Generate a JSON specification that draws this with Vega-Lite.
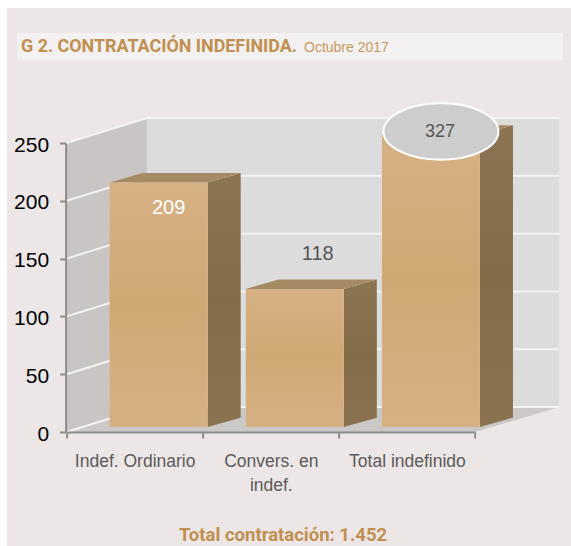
{
"$schema":"https://vega.github.io/schema/vega-lite/v6.json",
"width":408.4,"height":289,
"autosize":{"type":"none"},
"padding":{"left":66.6,"top":143,"right":96,"bottom":114},
"background":"#ffffff",
"config":{"view":{"stroke":null},"font":"Liberation Sans"},
"title":{"text":"G 2. CONTRATACIÓN INDEFINIDA.","anchor":"start","frame":"group","align":"left","baseline":"alphabetic","offset":-62,"dx":-45.6,"font":"Roboto","fontSize":17.9,"fontWeight":"bold","color":"#C18F50"},
"datasets":{
"contratacion":[{"categoria":"Indef. Ordinario","valor":209},{"categoria":"Convers. en indef.","valor":118},{"categoria":"Total indefinido","valor":327}],
"marcas":[{"t":0},{"t":50},{"t":100},{"t":150},{"t":200},{"t":250}]
},
"resolve":{"scale":{"x":"independent","y":"independent"},"axis":{"x":"independent","y":"independent"}},
"layer":[
{"data":{"values":[{"capa":"panel"}]},"mark":{"type":"rect","fill":"#ECE6E6"},
"encoding":{"x":{"datum":-0.438,"type":"quantitative","scale":{"domain":[0,3],"nice":false,"zero":false},"axis":null},"x2":{"datum":3.71},"y":{"datum":-99,"type":"quantitative","scale":{"domain":[0,250],"nice":false,"zero":false},"axis":null},"y2":{"datum":366.8}}},
{"data":{"values":[{"capa":"banda"}]},"mark":{"type":"rect","fill":"#F3F1F1"},
"encoding":{"x":{"datum":-0.364,"type":"quantitative","scale":{"domain":[0,3],"nice":false,"zero":false},"axis":null},"x2":{"datum":3.647},"y":{"datum":322,"type":"quantitative","scale":{"domain":[0,250],"nice":false,"zero":false},"axis":null},"y2":{"datum":345.2}}},
{"data":{"values":[{"capa":"subtitulo"}]},"mark":{"type":"text","font":"Liberation Sans","fontSize":14,"color":"#C6995F","align":"left","baseline":"alphabetic","text":"Octubre  2017"},
"encoding":{"x":{"datum":1.744,"type":"quantitative","scale":{"domain":[0,3],"nice":false,"zero":false},"axis":null},"y":{"datum":328.7,"type":"quantitative","scale":{"domain":[0,250],"nice":false,"zero":false},"axis":null}}},
{"data":{"values":[{"k":0},{"k":1}]},
"transform":[{"calculate":"0.59*datum.k","as":"px"},{"calculate":"250+21.6*datum.k","as":"arriba"},{"calculate":"21.6*datum.k","as":"abajo"}],
"mark":{"type":"area","fill":"#C8C5C4","line":false},
"encoding":{"x":{"field":"px","type":"quantitative","scale":{"domain":[0,3],"nice":false,"zero":false},"axis":null},"y":{"field":"arriba","type":"quantitative","scale":{"domain":[0,250],"nice":false,"zero":false},"axis":null},"y2":{"field":"abajo"}}},
{"data":{"values":[{"k":0},{"k":1},{"k":2},{"k":3}]},
"transform":[{"calculate":"[0,0.59,3,3.618][datum.k]","as":"px"},{"calculate":"[0,21.6,21.6,21.6][datum.k]","as":"arriba"},{"calculate":"[0,0,0,21.6][datum.k]","as":"abajo"}],
"mark":{"type":"area","fill":"#CAC9C8"},
"encoding":{"x":{"field":"px","type":"quantitative","scale":{"domain":[0,3],"nice":false,"zero":false},"axis":null},"y":{"field":"arriba","type":"quantitative","scale":{"domain":[0,250],"nice":false,"zero":false},"axis":null},"y2":{"field":"abajo"}}},
{"data":{"values":[{"capa":"pared"}]},"mark":{"type":"rect","fill":"#DCDCDC"},
"encoding":{"x":{"datum":0.59,"type":"quantitative","scale":{"domain":[0,3],"nice":false,"zero":false},"axis":null},"x2":{"datum":3.618},"y":{"datum":21.6,"type":"quantitative","scale":{"domain":[0,250],"nice":false,"zero":false},"axis":null},"y2":{"datum":271.6}}},
{"data":{"name":"marcas"},"transform":[{"calculate":"datum.t+21.6","as":"t2"}],
"mark":{"type":"rule","stroke":"#F3F3F3","strokeWidth":2},
"encoding":{"x":{"datum":0,"type":"quantitative","scale":{"domain":[0,3],"nice":false,"zero":false},"axis":null},"x2":{"datum":0.59},"y":{"field":"t","type":"quantitative","scale":{"domain":[0,250],"nice":false,"zero":false},"axis":{"orient":"left","values":[0,50,100,150,200,250],"title":null,"grid":false,"zindex":1,"offset":1,"domainColor":"#8C8C8C","domainWidth":2,"tickColor":"#8C8C8C","tickWidth":2,"tickSize":6,"labelColor":"#000000","labelFont":"Liberation Sans","labelFontSize":21,"labelPadding":11,"labelOffset":2}},"y2":{"field":"t2"}}},
{"data":{"name":"marcas"},"transform":[{"calculate":"datum.t+21.6","as":"t2"}],
"mark":{"type":"rule","stroke":"#F3F3F3","strokeWidth":2},
"encoding":{"x":{"datum":0.59,"type":"quantitative","scale":{"domain":[0,3],"nice":false,"zero":false},"axis":null},"x2":{"datum":3.618},"y":{"field":"t2","type":"quantitative","scale":{"domain":[0,250],"nice":false,"zero":false},"axis":null}}},
{"data":{"name":"contratacion"},
"transform":[{"calculate":"indexof(['Indef. Ordinario','Convers. en indef.','Total indefinido'],datum.categoria)","as":"i"},{"calculate":"min(datum.valor,250)","as":"h"},{"calculate":"[0,1]","as":"k"},{"flatten":["k"]},{"calculate":"datum.i+1.0364+0.2425*datum.k","as":"px"},{"calculate":"datum.h+8*datum.k","as":"arriba"},{"calculate":"8*datum.k","as":"abajo"}],
"mark":{"type":"area","color":{"x1":0,"y1":0,"x2":0,"y2":1,"gradient":"linear","stops":[{"offset":0,"color":"#8C7352"},{"offset":0.5,"color":"#856C49"},{"offset":1,"color":"#8B7352"}]}},
"encoding":{"detail":{"field":"categoria"},"x":{"field":"px","type":"quantitative","scale":{"domain":[0,3],"nice":false,"zero":false},"axis":null},"y":{"field":"arriba","type":"quantitative","scale":{"domain":[0,250],"range":[284,-8.5],"nice":false,"zero":false},"axis":null},"y2":{"field":"abajo"}}},
{"data":{"name":"contratacion"},
"transform":[{"calculate":"indexof(['Indef. Ordinario','Convers. en indef.','Total indefinido'],datum.categoria)","as":"i"},{"calculate":"min(datum.valor,250)","as":"h"},{"calculate":"[0,1,2,3]","as":"k"},{"flatten":["k"]},{"calculate":"datum.i+[0.3163,0.5588,1.0364,1.2789][datum.k]","as":"px"},{"calculate":"datum.h+[0,8,8,8][datum.k]","as":"arriba"},{"calculate":"datum.h+[0,0,0,8][datum.k]","as":"abajo"}],
"mark":{"type":"area","fill":"#A68A63"},
"encoding":{"detail":{"field":"categoria"},"x":{"field":"px","type":"quantitative","scale":{"domain":[0,3],"nice":false,"zero":false},"axis":null},"y":{"field":"arriba","type":"quantitative","scale":{"domain":[0,250],"range":[284,-8.5],"nice":false,"zero":false},"axis":null},"y2":{"field":"abajo"}}},
{"data":{"name":"contratacion"},
"mark":{"type":"bar","width":98,"xOffset":24,"color":{"x1":0,"y1":0,"x2":0,"y2":1,"gradient":"linear","stops":[{"offset":0,"color":"#D6B184"},{"offset":0.5,"color":"#D0A874"},{"offset":1,"color":"#D6B184"}]}},
"encoding":{"x":{"field":"categoria","type":"nominal","sort":null,"scale":{"paddingInner":0,"paddingOuter":0},"axis":{"orient":"bottom","title":null,"zindex":1,"labelAngle":0,"tickBand":"extent","domainColor":"#8C8C8C","domainWidth":2,"tickColor":"#8C8C8C","tickWidth":2,"tickSize":6,"labelColor":"#5A5A5A","labelFont":"Liberation Sans","labelFontSize":17.5,"labelPadding":14,"labelLineHeight":24,"labelBaseline":"top","labelLimit":200,"labelExpr":"datum.value=='Convers. en indef.'?['Convers. en','indef.']:datum.value"}},"y":{"field":"valor","type":"quantitative","scale":{"domain":[0,250],"range":[284,-8.5],"clamp":true,"nice":false},"axis":null}}},
{"data":{"name":"contratacion"},"transform":[{"filter":"datum.valor>250"}],
"mark":{"type":"point","filled":true,"shape":"M -1 0 A 1 0.49 0 1 0 1 0 A 1 0.49 0 1 0 -1 0 Z","size":13225,"fill":"#CDCDCD","stroke":"#FFFFFF","strokeWidth":2,"opacity":1,"fillOpacity":1,"xOffset":34,"yOffset":-3},
"encoding":{"x":{"field":"categoria","type":"nominal","sort":null,"scale":{"domain":["Indef. Ordinario","Convers. en indef.","Total indefinido"],"paddingInner":0,"paddingOuter":0},"axis":null},"y":{"field":"valor","type":"quantitative","scale":{"domain":[0,250],"range":[284,-8.5],"clamp":true,"nice":false},"axis":null}}},
{"data":{"name":"contratacion"},"transform":[{"filter":"datum.valor==209"}],
"mark":{"type":"text","font":"Liberation Sans","fontSize":20,"color":"#FFFFFF","baseline":"middle","xOffset":34,"yOffset":26},
"encoding":{"text":{"field":"valor","type":"quantitative"},"x":{"field":"categoria","type":"nominal","sort":null,"scale":{"domain":["Indef. Ordinario","Convers. en indef.","Total indefinido"],"paddingInner":0,"paddingOuter":0},"axis":null},"y":{"field":"valor","type":"quantitative","scale":{"domain":[0,250],"range":[284,-8.5],"clamp":true,"nice":false},"axis":null}}},
{"data":{"name":"contratacion"},"transform":[{"filter":"datum.valor==118"}],
"mark":{"type":"text","font":"Liberation Sans","fontSize":20,"color":"#555555","baseline":"middle","xOffset":47,"yOffset":-35},
"encoding":{"text":{"field":"valor","type":"quantitative"},"x":{"field":"categoria","type":"nominal","sort":null,"scale":{"domain":["Indef. Ordinario","Convers. en indef.","Total indefinido"],"paddingInner":0,"paddingOuter":0},"axis":null},"y":{"field":"valor","type":"quantitative","scale":{"domain":[0,250],"range":[284,-8.5],"clamp":true,"nice":false},"axis":null}}},
{"data":{"name":"contratacion"},"transform":[{"filter":"datum.valor==327"}],
"mark":{"type":"text","font":"Liberation Sans","fontSize":18,"color":"#555555","baseline":"middle","xOffset":33,"yOffset":-2.5},
"encoding":{"text":{"field":"valor","type":"quantitative"},"x":{"field":"categoria","type":"nominal","sort":null,"scale":{"domain":["Indef. Ordinario","Convers. en indef.","Total indefinido"],"paddingInner":0,"paddingOuter":0},"axis":null},"y":{"field":"valor","type":"quantitative","scale":{"domain":[0,250],"range":[284,-8.5],"clamp":true,"nice":false},"axis":null}}},
{"data":{"values":[{"capa":"total"}]},"mark":{"type":"text","font":"Roboto","fontSize":18.5,"fontWeight":"bold","color":"#C18F50","align":"center","baseline":"alphabetic","text":"Total contratación: 1.452"},
"encoding":{"x":{"datum":1.59,"type":"quantitative","scale":{"domain":[0,3],"nice":false,"zero":false},"axis":null},"y":{"datum":-94.7,"type":"quantitative","scale":{"domain":[0,250],"nice":false,"zero":false},"axis":null}}}
]
}
